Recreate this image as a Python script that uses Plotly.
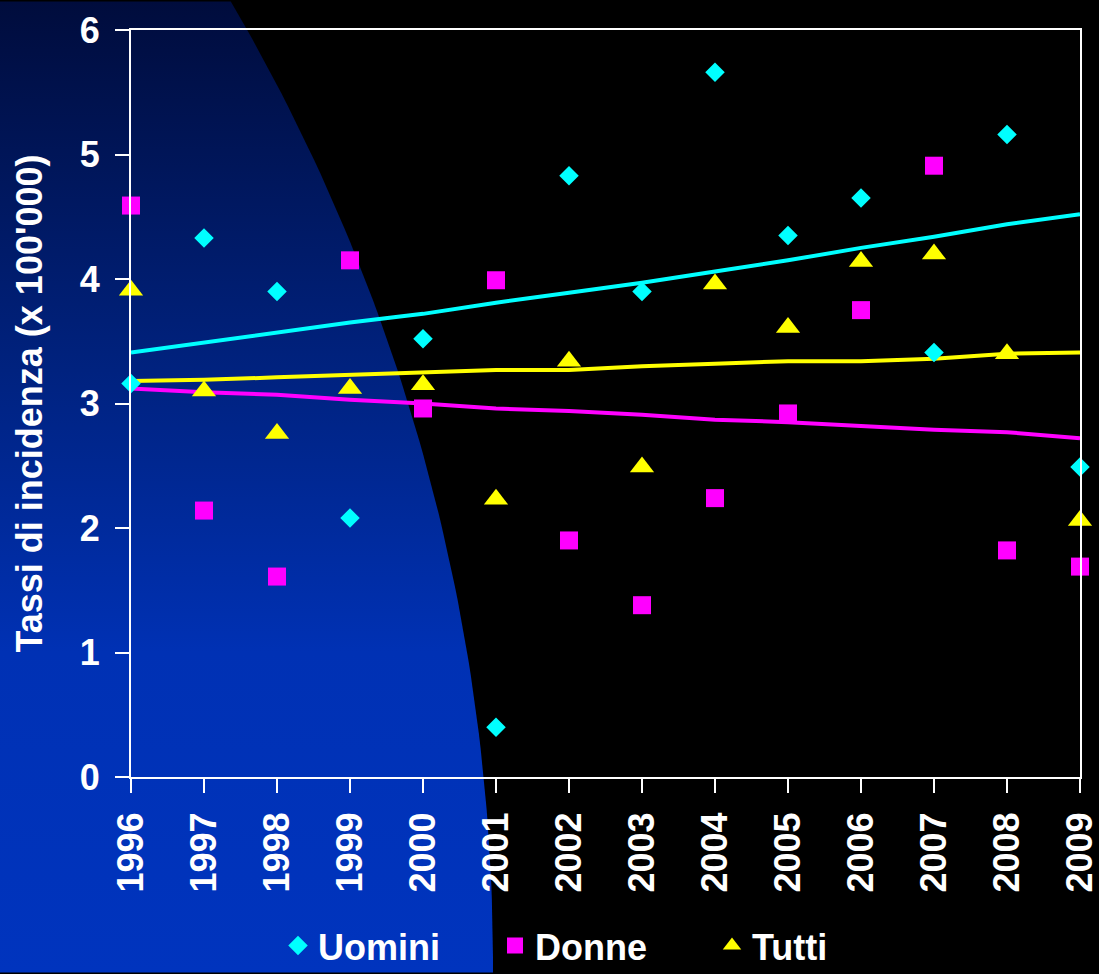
import numpy as np
import plotly.graph_objects as go

years = list(range(1996, 2010))
uomini = [3.16, 4.33, 3.90, 2.08, 3.52, 0.40, 4.83, 3.90, 5.66, 4.35, 4.65, 3.41, 5.16, 2.49]
donne = [4.59, 2.14, 1.61, 4.15, 2.96, 3.99, 1.90, 1.38, 2.24, 2.92, 3.75, 4.91, 1.82, 1.69]
tutti = [3.91, 3.10, 2.76, 3.12, 3.15, 2.23, 3.34, 2.49, 3.96, 3.61, 4.14, 4.20, 3.40, 2.06]
trend_uomini = [3.41, 3.49, 3.57, 3.65, 3.72, 3.81, 3.89, 3.97, 4.06, 4.15, 4.25, 4.34, 4.44, 4.52]
trend_donne = [3.12, 3.09, 3.07, 3.03, 3.00, 2.96, 2.94, 2.91, 2.87, 2.85, 2.82, 2.79, 2.77, 2.72]
trend_tutti = [3.18, 3.19, 3.21, 3.23, 3.25, 3.27, 3.27, 3.30, 3.32, 3.34, 3.34, 3.36, 3.40, 3.41]
tick_years = [str(y) for y in years]
y_title = "Tassi di incidenza (x 100'000)"

W, H = 1099, 974
FONT = "Liberation Sans, Arial, sans-serif"
FS = 36

fig = go.Figure()

# decorative background: large circle with vertical gradient (pixel space, y up)
cx, cy, R = -1408.0, 974 - 965.0, 1901.0
th = np.linspace(-np.pi / 2, np.pi / 2, 400)
bx = cx + R * np.cos(th)
by = cy + R * np.sin(th)
mask = (by >= -5) & (by <= H + 5)
bx = list(bx[mask]); by = list(by[mask])
bx = [-10] + bx + [-10]
by = [by[0]] + by + [by[-1]]
fig.add_trace(go.Scatter(
    x=bx, y=by, mode="lines", fill="toself", line=dict(width=0),
    fillgradient=dict(type="vertical", start=0, stop=H,
                      colorscale=[[0, "#0034be"], [0.33, "#0031b4"], [0.62, "#00227f"], [1, "#000c3c"]]),
    xaxis="x", yaxis="y", showlegend=False, hoverinfo="skip"))

line_w = 4
fig.add_trace(go.Scatter(x=years, y=trend_uomini, mode="lines", line=dict(color="#00FFFF", width=line_w),
                         xaxis="x2", yaxis="y2", showlegend=False))
fig.add_trace(go.Scatter(x=years, y=trend_donne, mode="lines", line=dict(color="#FF00FF", width=line_w),
                         xaxis="x2", yaxis="y2", showlegend=False))
fig.add_trace(go.Scatter(x=years, y=trend_tutti, mode="lines", line=dict(color="#FFFF00", width=line_w),
                         xaxis="x2", yaxis="y2", showlegend=False))

fig.add_trace(go.Scatter(x=years, y=uomini, mode="markers", name="Uomini", cliponaxis=False,
                         marker=dict(symbol="diamond", color="#00FFFF", size=15, line=dict(width=0)),
                         xaxis="x2", yaxis="y2"))
fig.add_trace(go.Scatter(x=years, y=donne, mode="markers", name="Donne", cliponaxis=False,
                         marker=dict(symbol="square", color="#FF00FF", size=18, line=dict(width=0)),
                         xaxis="x2", yaxis="y2"))
fig.add_trace(go.Scatter(x=years, y=tutti, mode="markers", name="Tutti", cliponaxis=False,
                         marker=dict(symbol="triangle-up", color="#FFFF00", size=21, line=dict(width=0)),
                         xaxis="x2", yaxis="y2"))

PL, PR, PT, PB = 131, 1080, 30, 777  # plot area in pixels
fig.update_layout(
    width=W, height=H,
    margin=dict(l=0, r=0, t=0, b=0, autoexpand=False),
    paper_bgcolor="#000000",
    plot_bgcolor="rgba(0,0,0,0)",
    font=dict(family=FONT, color="white", size=FS, weight="bold"),
    showlegend=True,
    legend=dict(orientation="h", x=(293 - 15) / W, xanchor="left", y=0.06, yanchor="top",
                font=dict(size=FS, family=FONT, color="white", weight="bold"),
                bgcolor="rgba(0,0,0,0)", itemsizing="trace", entrywidth=172,
                entrywidthmode="pixels"),
    xaxis=dict(domain=[0, 1], range=[0, W], visible=False, fixedrange=True),
    yaxis=dict(domain=[0, 1], range=[0, H], visible=False, fixedrange=True),
    xaxis2=dict(domain=[PL / W, PR / W], anchor="y2", range=[1996, 2009], tickmode="array", tickvals=years,
                ticktext=tick_years, tickangle=-90, showline=True, linecolor="white", linewidth=2,
                mirror=True, ticks="outside", ticklen=14, tickwidth=2, tickcolor="white",
                ticklabelstandoff=5, ticklabeloverflow="allow",
                showgrid=False, zeroline=False, tickfont=dict(size=FS, family=FONT, color="white", weight="bold")),
    yaxis2=dict(domain=[1 - PB / H, 1 - PT / H], anchor="x2", range=[0, 6], dtick=1, showline=True,
                linecolor="white", linewidth=2, mirror=True, ticks="outside", ticklen=14, tickwidth=2,
                tickcolor="white", showgrid=False, zeroline=False, ticklabelstandoff=8,
                tickfont=dict(size=FS, family=FONT, color="white", weight="bold"),
                title=dict(text=y_title, font=dict(size=FS, family=FONT, color="white", weight="bold"),
                           standoff=26)),
)

fig.write_html("out.html", config={"displayModeBar": False},
               post_script="document.body.style.margin='0';document.body.style.background='#000';")
